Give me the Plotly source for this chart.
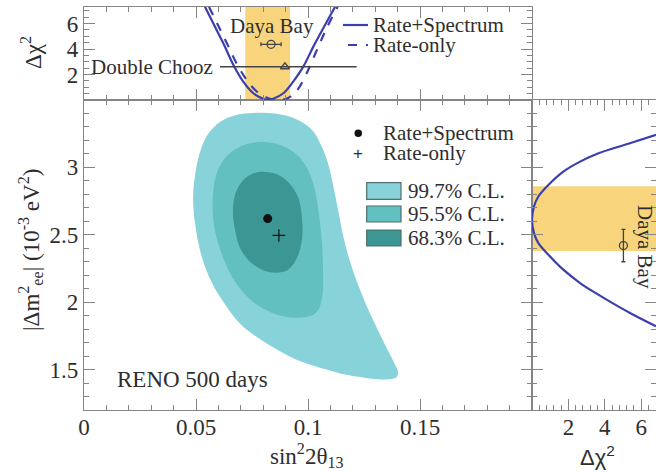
import plotly.graph_objects as go

# ---------------- data ----------------
# 2D allowed regions (sin^2 2theta13, |dm2_ee| [1e-3 eV^2])
cl997_x = [0.0755, 0.0853, 0.0946, 0.1018, 0.1058, 0.1089, 0.1112, 0.1134, 0.1161, 0.1192,
           0.1241, 0.1290, 0.1344, 0.1384, 0.1402, 0.1393, 0.1330, 0.1246, 0.1165, 0.1098,
           0.1022, 0.0920, 0.0795, 0.0696, 0.0630, 0.0571, 0.0527, 0.0500, 0.0487, 0.0496,
           0.0518, 0.0554, 0.0607, 0.0679]
cl997_y = [3.404, 3.400, 3.359, 3.278, 3.167, 3.033, 2.870, 2.685, 2.463, 2.278,
           2.056, 1.870, 1.685, 1.552, 1.478, 1.441, 1.426, 1.441, 1.463, 1.493,
           1.530, 1.596, 1.715, 1.841, 1.982, 2.144, 2.330, 2.537, 2.759, 2.944,
           3.115, 3.248, 3.337, 3.389]

cl955_x = [0.0808, 0.0888, 0.0951, 0.1000, 0.1031, 0.1049, 0.1063, 0.1067, 0.1063, 0.1036,
           0.0964, 0.0862, 0.0754, 0.0674, 0.0616, 0.0580, 0.0576, 0.0598, 0.0652, 0.0728]
cl955_y = [3.189, 3.159, 3.093, 2.982, 2.833, 2.648, 2.426, 2.226, 2.033, 1.922,
           1.885, 1.907, 2.004, 2.152, 2.352, 2.574, 2.796, 2.982, 3.107, 3.174]

cl683_x = [0.0786, 0.0857, 0.0915, 0.0955, 0.0973, 0.0973, 0.0951, 0.0911, 0.0857, 0.0795,
           0.0741, 0.0696, 0.0674, 0.0665, 0.0674, 0.0705, 0.0741]
cl683_y = [2.967, 2.952, 2.885, 2.782, 2.626, 2.463, 2.330, 2.241, 2.219, 2.241,
           2.300, 2.404, 2.537, 2.670, 2.796, 2.893, 2.944]

best_rs = (0.082, 2.62)      # Rate+Spectrum best fit
best_ro = (0.087, 2.495)     # Rate-only best fit

# top panel: delta chi2 vs sin^2 2theta13
rs_s2t = [0.0540, 0.0577, 0.0622, 0.0667, 0.0711, 0.0756, 0.0800, 0.0821, 0.0845, 0.0890,
          0.0934, 0.0979, 0.1024, 0.1076, 0.1121]
rs_chi2 = [7.32, 6.02, 4.45, 2.75, 1.44, 0.53, 0.10, 0.0, 0.10, 0.53,
           1.44, 2.62, 4.19, 5.88, 7.32]
ro_s2t = [0.0558, 0.0594, 0.0638, 0.0685, 0.0732, 0.0781, 0.0830, 0.0871, 0.0911, 0.0951,
          0.0994, 0.1039, 0.1083, 0.1132]
ro_chi2 = [7.32, 6.02, 4.45, 2.75, 1.44, 0.53, 0.10, 0.0, 0.15, 0.75,
           2.10, 3.90, 5.62, 7.30]

reno_s2t_band = [0.072, 0.092]
dyb_s2t, dyb_s2t_err, dyb_s2t_y = 0.0835, 0.0045, 4.37
dc_s2t, dc_s2t_up, dc_s2t_dn, dc_y = 0.0897, 0.032, 0.029, 2.61

# right panel: delta chi2 vs |dm2_ee|
dm_chi2 = [6.81, 5.38, 4.47, 3.55, 2.64, 1.72, 0.90, 0.35, 0.11, 0.0,
           0.11, 0.35, 0.90, 1.72, 2.64, 3.55, 4.47, 5.38, 6.81]
dm_val = [3.241, 3.179, 3.142, 3.100, 3.043, 2.969, 2.870, 2.784, 2.710, 2.611,
          2.512, 2.438, 2.352, 2.241, 2.142, 2.063, 1.989, 1.920, 1.821]
reno_dm_band = [2.38, 2.86]
dyb_dm, dyb_dm_err, dyb_dm_x = 2.42, 0.12, 5.02

# tick labels
main_xticks = [0, 0.05, 0.1, 0.15]
main_xticklabels = ["0", "0.05", "0.1", "0.15"]
main_yticks = [1.5, 2, 2.5, 3]
main_yticklabels = ["1.5", "2", "2.5", "3"]
chi_ticks = [2, 4, 6]
chi_ticklabels = ["2", "4", "6"]

# ---------------- style ----------------
C_OUT = "#88d2da"
C_MID = "#62c1c0"
C_IN = "#3b9694"
BLUE = "#3b3fae"
GRAY = "#444444"
FRAME = "#858585"
TXT = "#2e2e2e"
BAND = "#f8d57c"
FONT = "Liberation Serif"

W, H = 656, 475
ML, MR, MT, MB = 84, 0, 7, 65
PW, PH = W - ML - MR, H - MT - MB
XSPLIT = (532 - ML) / PW
YSPLIT = (410 - 100) / PH


def px(xp):
    return (xp - ML) / PW


def py(yp):
    return (410 - yp) / PH


fig = go.Figure()

for xs, ys, col, name in [(cl997_x, cl997_y, C_OUT, "99.7% C.L."),
                          (cl955_x, cl955_y, C_MID, "95.5% C.L."),
                          (cl683_x, cl683_y, C_IN, "68.3% C.L.")]:
    fig.add_trace(go.Scatter(x=xs + xs[:1], y=ys + ys[:1], mode="lines", fill="toself",
                             fillcolor=col, line=dict(width=0, color=col, shape="spline"),
                             name=name, xaxis="x", yaxis="y", hoverinfo="skip"))

fig.add_trace(go.Scatter(x=[best_rs[0]], y=[best_rs[1]], mode="markers",
                         marker=dict(symbol="circle", size=9, color="#111111"),
                         xaxis="x", yaxis="y", name="Rate+Spectrum"))
fig.add_trace(go.Scatter(x=[best_ro[0]], y=[best_ro[1]], mode="markers",
                         marker=dict(symbol="cross-thin", size=9, color="#111111",
                                     line=dict(width=1.2, color="#111111")),
                         xaxis="x", yaxis="y", name="Rate-only"))

# top panel
fig.add_trace(go.Scatter(x=rs_s2t, y=rs_chi2, mode="lines",
                         line=dict(color=BLUE, width=2.2, shape="spline"),
                         xaxis="x2", yaxis="y2", name="Rate+Spectrum"))
fig.add_trace(go.Scatter(x=ro_s2t, y=ro_chi2, mode="lines",
                         line=dict(color=BLUE, width=2.2, dash="dash", shape="spline"),
                         xaxis="x2", yaxis="y2", name="Rate-only"))
fig.add_trace(go.Scatter(x=[dc_s2t], y=[dc_y], mode="markers",
                         marker=dict(symbol="triangle-up-open", size=8, color=GRAY,
                                     line=dict(width=1.3)),
                         error_x=dict(type="data", symmetric=False, array=[dc_s2t_up],
                                      arrayminus=[dc_s2t_dn], color=GRAY, thickness=1.3, width=0),
                         xaxis="x2", yaxis="y2", name="Double Chooz"))
fig.add_trace(go.Scatter(x=[dyb_s2t], y=[dyb_s2t_y], mode="markers",
                         marker=dict(symbol="circle-open", size=8, color=GRAY,
                                     line=dict(width=1.3)),
                         error_x=dict(type="data", array=[dyb_s2t_err], color=GRAY,
                                      thickness=1.3, width=2),
                         xaxis="x2", yaxis="y2", name="Daya Bay"))

# right panel
fig.add_trace(go.Scatter(x=dm_chi2, y=dm_val, mode="lines",
                         line=dict(color=BLUE, width=2.2, shape="spline", smoothing=1.0),
                         xaxis="x3", yaxis="y3", name="Rate+Spectrum"))
fig.add_trace(go.Scatter(x=[dyb_dm_x], y=[dyb_dm], mode="markers",
                         marker=dict(symbol="circle-open", size=8, color=GRAY,
                                     line=dict(width=1.3)),
                         error_y=dict(type="data", array=[dyb_dm_err], color=GRAY,
                                      thickness=1.3, width=2),
                         xaxis="x3", yaxis="y3", name="Daya Bay"))

tickfont = dict(family=FONT, size=23, color=TXT)
common = dict(showline=True, linecolor=FRAME, linewidth=1.1, mirror="ticks",
              ticks="inside", tickcolor=FRAME, tickwidth=1.1, ticklen=11,
              showgrid=False, zeroline=False, tickfont=tickfont)
minor_kw = dict(ticks="inside", ticklen=5, tickcolor=FRAME, tickwidth=1.0, tick0=0)

fig.update_layout(
    width=W, height=H, margin=dict(l=ML, r=MR, t=MT, b=MB),
    paper_bgcolor="white", plot_bgcolor="white", showlegend=False,
    xaxis=dict(domain=[0, XSPLIT], range=[0, 0.2], anchor="y",
               tickvals=main_xticks, ticktext=main_xticklabels, ticklabelstandoff=-4,
               minor=dict(dtick=0.01, **minor_kw), **common),
    yaxis=dict(domain=[0, YSPLIT], range=[1.2, 3.5], anchor="x",
               tickvals=main_yticks, ticktext=main_yticklabels,
               minor=dict(dtick=0.1, **minor_kw), **common),
    xaxis2=dict(domain=[0, XSPLIT], range=[0, 0.2], anchor="y2", matches="x",
                tickvals=main_xticks, showticklabels=False,
                minor=dict(dtick=0.01, **minor_kw), **common),
    yaxis2=dict(domain=[YSPLIT, 1], range=[0, 7.3], anchor="x2",
                tickvals=chi_ticks, ticktext=chi_ticklabels,
                minor=dict(dtick=0.5, **minor_kw), **common),
    xaxis3=dict(domain=[XSPLIT, 1], range=[0, 6.81], anchor="y3",
                tickvals=chi_ticks, ticktext=chi_ticklabels, ticklabelstandoff=-4,
                minor=dict(dtick=0.4, **minor_kw), **common),
    yaxis3=dict(domain=[0, YSPLIT], range=[1.2, 3.5], anchor="x3", matches="y",
                tickvals=main_yticks, showticklabels=False,
                minor=dict(dtick=0.1, **minor_kw), **common),
)

# RENO 1 sigma bands
fig.add_shape(type="rect", xref="x2", yref="y2 domain", x0=reno_s2t_band[0], x1=reno_s2t_band[1],
              y0=0, y1=1, fillcolor=BAND, line_width=0, layer="below")
fig.add_shape(type="rect", xref="x3 domain", yref="y3", x0=0, x1=1,
              y0=reno_dm_band[0], y1=reno_dm_band[1], fillcolor=BAND, line_width=0, layer="below")

ann = []


def text(x, y, s, size=21, xref="paper", yref="paper", xanchor="left", yanchor="middle",
         angle=0, family=FONT):
    ann.append(dict(x=x, y=y, xref=xref, yref=yref, text=s, showarrow=False,
                    xanchor=xanchor, yanchor=yanchor, textangle=angle,
                    font=dict(family=family, size=size, color=TXT)))


# axis titles
text(px(307), py(455), "sin<sup>2</sup>2θ<sub>13</sub>", size=23, xanchor="center")
text(px(597), py(456), "Δχ<sup>2</sup>", size=22, xanchor="center", family="Liberation Sans")
text(px(30), py(250), "|Δm<sup>2</sup><sub>ee</sub>| (10<sup>-3</sup> eV<sup>2</sup>)", size=23,
     xanchor="center", angle=-90)
text(px(32), py(53), "Δχ<sup>2</sup>", size=23, xanchor="center", angle=-90)

# in-plot labels
text(0.0138, 1.426, "RENO 500 days", size=23, xref="x", yref="y")
text(0.0838, 5.8, "Daya Bay", size=21, xref="x2", yref="y2", xanchor="center")
text(0.0585, dc_y, "Double Chooz", size=21, xref="x2", yref="y2", xanchor="right")
text(6.2, 2.41, "Daya Bay", size=21, xref="x3", yref="y3", xanchor="center", angle=90)

# main legend
text(px(381), py(133), "Rate+Spectrum", size=21)
text(px(381), py(153), "Rate-only", size=21)
fig.add_shape(type="circle", xref="paper", yref="paper", x0=px(354.5), x1=px(362),
              y0=py(137), y1=py(129.5), fillcolor="#111111", line_width=0)
text(px(358.3), py(153.5), "+", size=17, xanchor="center", family="Liberation Sans")
for (y0, y1), col, lab in [((182.7, 199.3), C_OUT, "99.7% C.L."),
                           ((206, 222), C_MID, "95.5% C.L."),
                           ((230, 246), C_IN, "68.3% C.L.")]:
    fig.add_shape(type="rect", xref="paper", yref="paper", x0=px(366.7), x1=px(401),
                  y0=py(y1), y1=py(y0), fillcolor=col, line=dict(color="#4f6f70", width=1.2))
    text(px(406), py((y0 + y1) / 2), lab, size=21)

# top legend
fig.add_shape(type="line", xref="paper", yref="paper", x0=px(343), x1=px(368), y0=py(25), y1=py(25),
              line=dict(color=BLUE, width=2.2))
fig.add_shape(type="line", xref="paper", yref="paper", x0=px(348), x1=px(368), y0=py(45), y1=py(45),
              line=dict(color=BLUE, width=2.2, dash="dash"))
text(px(371), py(25), "Rate+Spectrum", size=21)
text(px(371), py(45), "Rate-only", size=21)

fig.update_layout(annotations=ann)
fig.write_html("out.html", config={"displayModeBar": False},
               post_script="document.body.style.margin='0px';document.body.style.overflow='hidden';")
